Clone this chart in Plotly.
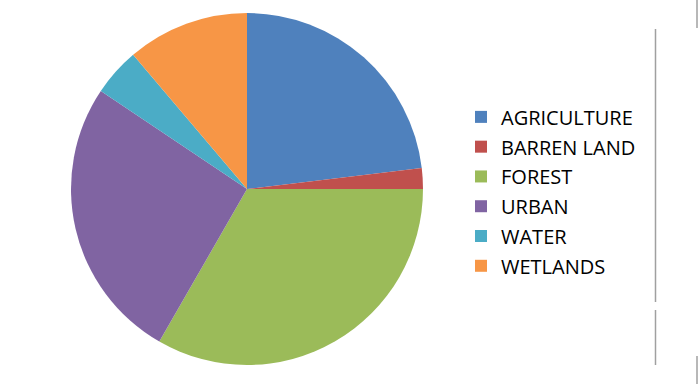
import plotly.graph_objects as go

categories = ["AGRICULTURE", "BARREN LAND", "FOREST", "URBAN", "WATER", "WETLANDS"]
values = [23.1, 1.9, 33.3, 26.1, 4.4, 11.2]
colors = ["#4F81BD", "#C0504D", "#9BBB59", "#8064A2", "#4BACC6", "#F79646"]

W, H = 700, 384
cx, cy, r = 247, 189, 176

fig = go.Figure(go.Pie(
    labels=[f'<span style="font-size:20px">{c}</span>' for c in categories],
    values=values,
    marker=dict(colors=colors, line=dict(width=0)),
    sort=False,
    direction="clockwise",
    rotation=0,
    textinfo="none",
    hoverinfo="label+percent",
    domain=dict(x=[(cx - r) / W, (cx + r) / W], y=[(H - cy - r) / H, (H - cy + r) / H]),
))

shapes = []
for x, y0, y1 in [(655.5, 29, 302), (655.5, 310, 365), (697, 0, 28), (697, 356, 384)]:
    shapes.append(dict(type="line", xref="paper", yref="paper",
                       x0=x / W, x1=x / W, y0=1 - y0 / H, y1=1 - y1 / H,
                       line=dict(color="#A0A0A0", width=1.5)))

fig.update_layout(
    width=W, height=H,
    margin=dict(l=0, r=0, t=0, b=0),
    paper_bgcolor="white",
    font=dict(family="Open Sans, sans-serif", color="#000000"),
    showlegend=True,
    legend=dict(x=(481 - 20) / W, xanchor="left", y=1 - 191.5 / H, yanchor="middle",
                font=dict(size=20.6, family="Open Sans, sans-serif"), bgcolor="rgba(0,0,0,0)"),
    shapes=shapes,
)

fig.write_html("out.html")
